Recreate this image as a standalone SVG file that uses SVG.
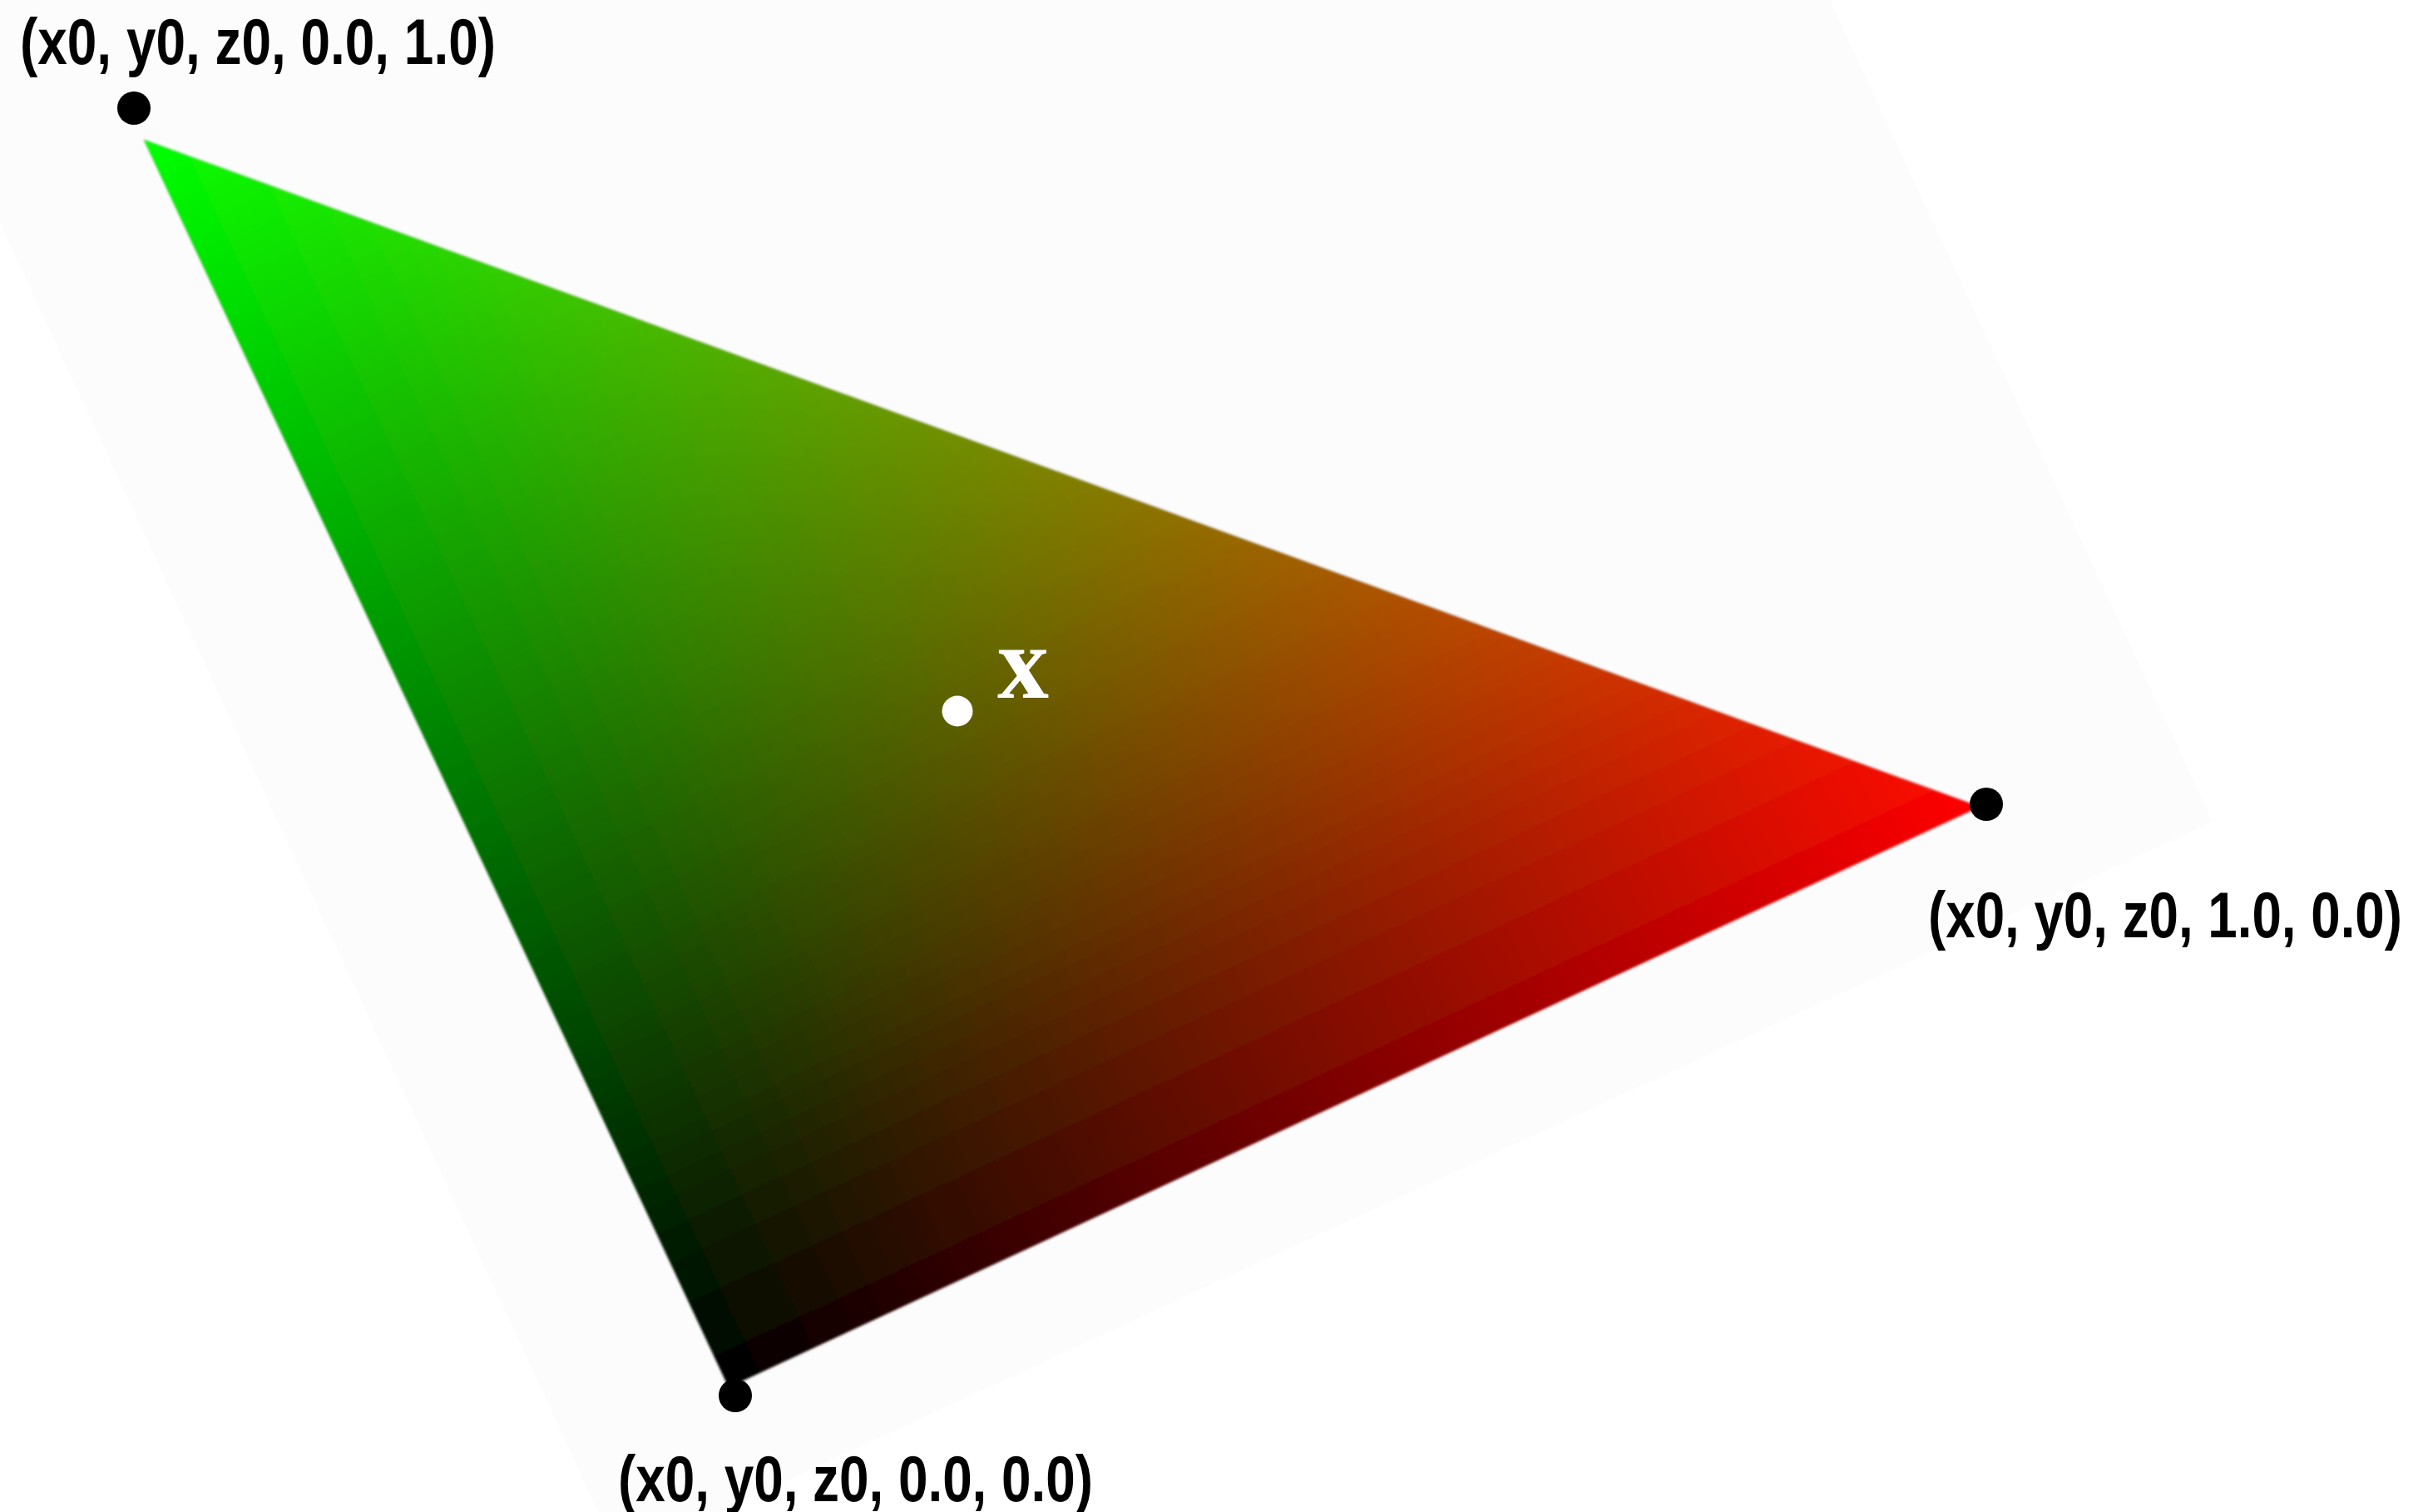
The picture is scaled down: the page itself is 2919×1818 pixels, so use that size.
<svg xmlns="http://www.w3.org/2000/svg" width="2919" height="1818" viewBox="0 0 2919 1818">
  <style>
    .lbl { font-family: "Liberation Sans Narrow", "Liberation Sans", Arial, sans-serif; font-weight: bold; font-size: 78px; fill: #000; }
    .xl { font-family: "Liberation Serif", "Times New Roman", serif; font-weight: bold; font-size: 124px; fill: #fff; }
    .vdot { fill: #000; }
  </style>
  <defs>
    <linearGradient id="gRed" gradientUnits="userSpaceOnUse" x1="878.6" y1="1673.6" x2="2380" y2="970">
      <stop offset="0" stop-color="#000"/>
      <stop offset="1" stop-color="#f00"/>
    </linearGradient>
    <linearGradient id="gGreen" gradientUnits="userSpaceOnUse" x1="870.4" y1="1670.6" x2="173" y2="168">
      <stop offset="0" stop-color="#000"/>
      <stop offset="1" stop-color="#0f0"/>
    </linearGradient>
    <filter id="soft" x="-5%" y="-5%" width="110%" height="110%">
      <feGaussianBlur stdDeviation="1.6"/>
    </filter>
  </defs>

  <rect x="0" y="0" width="2919" height="1818" fill="#fff"/>
  <polygon id="plane" points="-171,-100 2153,-100 2660,988 745,1873" fill="#fcfcfc"/>

  <g id="triangle" filter="url(#soft)">
    <polygon points="173,168 2380,970 876,1668" fill="url(#gRed)"/>
    <polygon points="173,168 2380,970 876,1668" fill="url(#gGreen)" style="mix-blend-mode:screen"/>
  </g>

  <g id="connectors"/>

  <g id="vertex-top">
    <circle class="vdot" cx="161" cy="130" r="20"/>
    <text class="lbl" x="24" y="77" textLength="572" lengthAdjust="spacingAndGlyphs">(x0, y0, z0, 0.0, 1.0)</text>
  </g>
  <g id="vertex-right">
    <circle class="vdot" cx="2388" cy="967" r="20"/>
    <text class="lbl" x="2318" y="1127" textLength="570" lengthAdjust="spacingAndGlyphs">(x0, y0, z0, 1.0, 0.0)</text>
  </g>
  <g id="vertex-bottom">
    <circle class="vdot" cx="884" cy="1678" r="20"/>
    <text class="lbl" x="743" y="1805" textLength="571" lengthAdjust="spacingAndGlyphs">(x0, y0, z0, 0.0, 0.0)</text>
  </g>
  <g id="point-x">
    <circle cx="1151" cy="855" r="18.5" fill="#fff"/>
    <text class="xl" x="1199" y="839">x</text>
  </g>
</svg>
